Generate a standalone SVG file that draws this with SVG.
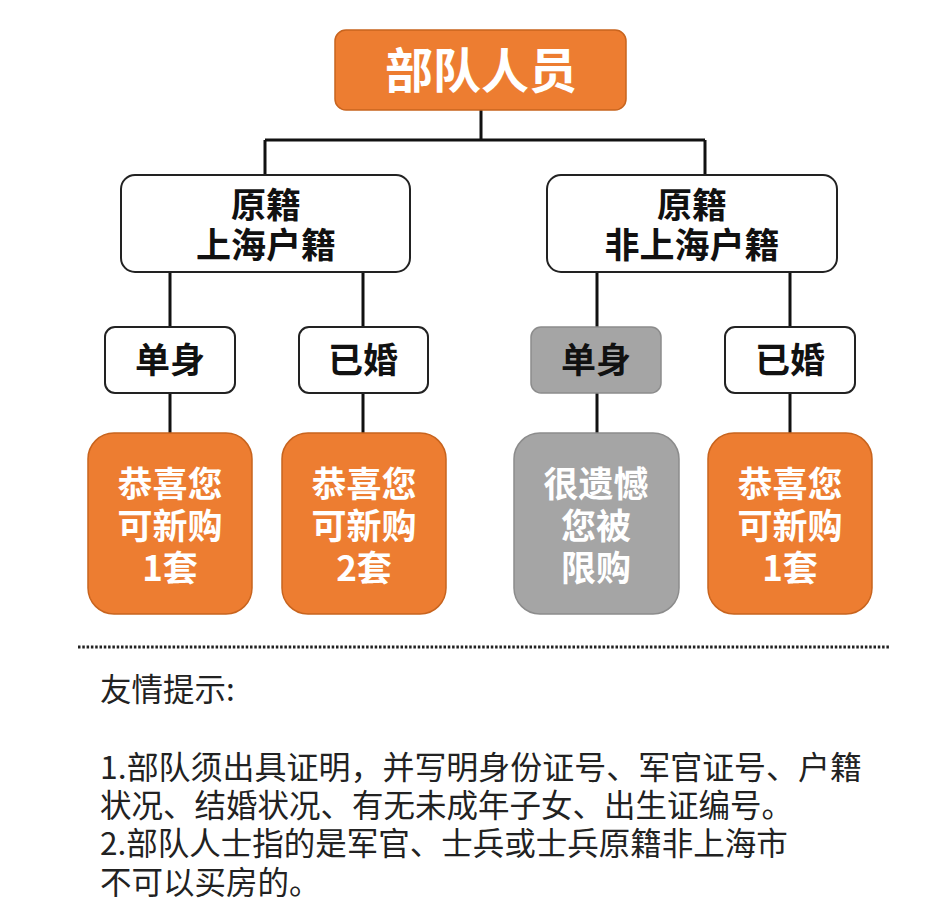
<svg xmlns="http://www.w3.org/2000/svg" width="951" height="924" viewBox="0 0 951 924">
<style>
.t{font-family:"Noto Sans CJK SC","Noto Sans",sans-serif;font-weight:bold;text-anchor:middle}
.w{fill:#ffffff}
.k{fill:#111111}
.org{fill:#ED7D31;stroke:#C8641E;stroke-width:1.5}
.gry{fill:#A5A5A5;stroke:#8C8C8C;stroke-width:1.5}
.wht{fill:#ffffff;stroke:#222222;stroke-width:2}
.ln{fill:none;stroke:#111111;stroke-width:3}
.note{font-family:"Noto Sans CJK SC","Noto Sans",sans-serif;font-size:31.5px;fill:#222222}
</style>
<rect width="951" height="924" fill="#ffffff"/>
<g id="connectors">
<path class="ln" d="M481 110V140M265 140H705M265 140V175M705 140V175"/>
<path class="ln" d="M170 272V327M363 272V327M597 272V327M790 272V327"/>
<path class="ln" d="M170 393V433M363 393V433M597 393V433M790 393V433"/>
</g>
<g id="root">
<rect class="org" x="335" y="30" width="291" height="80" rx="11"/>
<text class="t w" x="481" y="88" font-size="48">部队人员</text>
</g>
<g id="shanghai">
<rect class="wht" x="121" y="175" width="289" height="97" rx="14"/>
<text class="t k" x="266" y="218" font-size="35">原籍</text>
<text class="t k" x="266" y="258" font-size="35">上海户籍</text>
</g>
<g id="nonshanghai">
<rect class="wht" x="547" y="175" width="290" height="97" rx="14"/>
<text class="t k" x="692" y="218" font-size="35">原籍</text>
<text class="t k" x="692" y="258" font-size="35">非上海户籍</text>
</g>
<g id="sh-single">
<rect class="wht" x="105" y="327" width="130" height="66" rx="10"/>
<text class="t k" x="170" y="373" font-size="35">单身</text>
</g>
<g id="sh-married">
<rect class="wht" x="299" y="327" width="129" height="66" rx="10"/>
<text class="t k" x="363" y="373" font-size="35">已婚</text>
</g>
<g id="nsh-single">
<rect class="gry" x="531" y="327" width="130" height="66" rx="10"/>
<text class="t k" x="596" y="373" font-size="35">单身</text>
</g>
<g id="nsh-married">
<rect class="wht" x="725" y="327" width="130" height="66" rx="10"/>
<text class="t k" x="790" y="373" font-size="35">已婚</text>
</g>
<g id="sh-single-result">
<rect class="org" x="88" y="433" width="164" height="181" rx="26"/>
<text class="t w" x="170" y="497" font-size="35">恭喜您</text>
<text class="t w" x="170" y="539" font-size="35">可新购</text>
<text class="t w" x="170" y="581" font-size="35">1套</text>
</g>
<g id="sh-married-result">
<rect class="org" x="282" y="433" width="164" height="181" rx="26"/>
<text class="t w" x="364" y="497" font-size="35">恭喜您</text>
<text class="t w" x="364" y="539" font-size="35">可新购</text>
<text class="t w" x="364" y="581" font-size="35">2套</text>
</g>
<g id="nsh-single-result">
<rect class="gry" x="514" y="433" width="165" height="181" rx="26"/>
<text class="t w" x="596" y="497" font-size="35">很遗憾</text>
<text class="t w" x="596" y="539" font-size="35">您被</text>
<text class="t w" x="596" y="581" font-size="35">限购</text>
</g>
<g id="nsh-married-result">
<rect class="org" x="708" y="433" width="164" height="181" rx="26"/>
<text class="t w" x="790" y="497" font-size="35">恭喜您</text>
<text class="t w" x="790" y="539" font-size="35">可新购</text>
<text class="t w" x="790" y="581" font-size="35">1套</text>
</g>
<line x1="78" y1="647" x2="890" y2="647" stroke="#222222" stroke-width="3" stroke-dasharray="2.5 1.8"/>
<g id="notes">
<text class="note" x="100" y="701">友情提示:</text>
<text class="note" x="100" y="779" textLength="762" lengthAdjust="spacingAndGlyphs">1.部队须出具证明，并写明身份证号、军官证号、户籍</text>
<text class="note" x="100" y="817">状况、结婚状况、有无未成年子女、出生证编号。</text>
<text class="note" x="100" y="855">2.部队人士指的是军官、士兵或士兵原籍非上海市</text>
<text class="note" x="100" y="894">不可以买房的。</text>
</g>
</svg>
